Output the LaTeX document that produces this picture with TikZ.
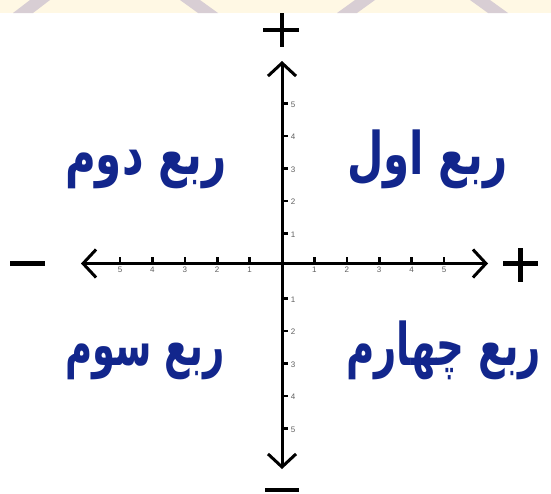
\documentclass[tikz,border=0pt]{standalone}
\usepackage{fontspec}
\usepackage{graphicx}
\usetikzlibrary{arrows.meta}
\setmainfont{Liberation Sans}
\TeXXeTstate=1
\newfontfamily\arabicfont[Script=Arabic,BoldFont={DejaVu Sans Bold}]{DejaVu Sans}
\definecolor{qblue}{RGB}{18,38,140}
\definecolor{tickgrey}{RGB}{95,95,95}
\definecolor{bandcream}{RGB}{255,248,228}
\definecolor{bandstripe}{RGB}{216,206,212}
\tikzset{
  axis/.style={line width=3pt,black,{Straight Barb[length=13pt,width=28pt,line width=3pt]}-{Straight Barb[length=13pt,width=28pt,line width=3pt]}},
  tickmark/.style={line width=2.6pt,black},
  ticklabel/.style={font=\fontsize{8}{9}\selectfont,text=tickgrey,inner sep=0pt},
  quad/.style={font=\arabicfont\bfseries\fontsize{42}{48}\selectfont,text=qblue,inner sep=0pt,anchor=base west},
  sign/.style={line width=4.5pt,black}
}
\begin{document}
\begin{tikzpicture}[x=1pt,y=-1pt]
\useasboundingbox (0,0) rectangle (551,493);
% watermark band
\fill[bandcream] (0,0) rectangle (551,13);
\fill[bandstripe] (30,0) -- (50,0) -- (33,13) -- (13,13) -- cycle;
\fill[bandstripe] (180,0) -- (200,0) -- (218,13) -- (198,13) -- cycle;
\fill[bandstripe] (355,0) -- (375,0) -- (357,13) -- (337,13) -- cycle;
\fill[bandstripe] (470,0) -- (490,0) -- (508,13) -- (488,13) -- cycle;
% axes
\coordinate (L) at (81,263.5);
\coordinate (R) at (488,263.5);
\coordinate (T) at (282,61);
\coordinate (B) at (282,469);
\draw[axis] (L) -- (R);
\draw[axis] (B) -- (T);
% ticks
\foreach \k in {1,...,5}{
  \coordinate (xp\k) at ({282+32.4*\k},263.5);
  \coordinate (xn\k) at ({282-32.4*\k},263.5);
  \draw[tickmark] (xp\k) -- ++(0,-6.5);
  \draw[tickmark] (xn\k) -- ++(0,-6.5);
  \node[ticklabel] (lxp\k) at ({282+32.4*\k},270) {\k};
  \node[ticklabel] (lxn\k) at ({282-32.4*\k},270) {\k};
  \coordinate (yp\k) at (282,{266-32.5*\k});
  \coordinate (yn\k) at (282,{266+32.5*\k});
  \draw[tickmark] (yp\k) -- ++(6,0);
  \draw[tickmark] (yn\k) -- ++(6,0);
  \node[ticklabel] (lyp\k) at (293,{267-32.5*\k}) {\k};
  \node[ticklabel] (lyn\k) at (293,{267+32.5*\k}) {\k};
}
% signs
\draw[sign] (263,30) -- (299,30);
\draw[sign] (282,13) -- (282,47);
\draw[sign] (503,263.5) -- (538,263.5);
\draw[sign] (520.5,248) -- (520.5,282);
\draw[sign] (10,263.5) -- (45,263.5);
\draw[sign] (265,490) -- (299,490);
% quadrant labels
\node[quad] (q1) at (347,174) {\scalebox{1}[1.4]{\beginR ربع اول\endR}};
\node[quad] (q2) at (65,174) {\scalebox{1}[1.4]{\beginR ربع دوم\endR}};
\node[quad] (q3) at (65,365) {\scalebox{0.88}[1.4]{\beginR ربع سوم\endR}};
\node[quad] (q4) at (346,365) {\scalebox{0.92}[1.4]{\beginR ربع چهارم\endR}};
\end{tikzpicture}
\end{document}
